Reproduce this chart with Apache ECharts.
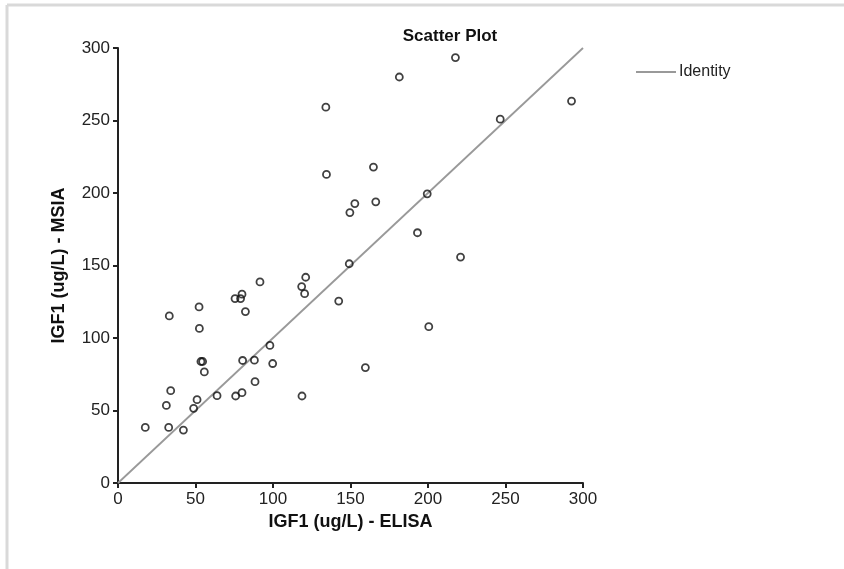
<!DOCTYPE html>
<html>
<head>
<meta charset="utf-8">
<title>Scatter Plot</title>
<script src="https://cdn.jsdelivr.net/npm/echarts@6/dist/echarts.min.js"></script>
<style>
  html, body { margin: 0; padding: 0; background: #fff; }
  #chart { width: 844px; height: 569px; }
</style>
</head>
<body>
<div id="chart"></div>
<script>
// data
var elisa = [17.6, 32.7, 42.2, 31.2, 34, 33.1, 48.8, 51, 52.3, 52.5, 53.5, 54.6, 55.7, 63.9,
             75.5, 79.1, 80, 82.2, 75.9, 80, 80.4, 88, 88.4, 91.6, 98, 99.8, 118.5, 121.1,
             120.4, 118.7, 142.4, 149.2, 159.6, 134.1, 134.5, 149.6, 152.8, 164.8, 166.3,
             181.5, 217.7, 292.6, 246.6, 199.5, 193.2, 221, 200.5];
var msia  = [38.3, 38.3, 36.5, 53.5, 63.7, 115.2, 51.5, 57.5, 121.4, 106.6, 83.8, 83.8, 76.6, 60.2,
             127.2, 127.2, 130.2, 118.2, 60, 62.3, 84.5, 84.7, 69.9, 138.7, 94.9, 82.4, 135.5, 141.9,
             130.6, 60, 125.5, 151.2, 79.6, 259.2, 212.8, 186.5, 192.7, 217.9, 193.9,
             280, 293.4, 263.4, 250.9, 199.4, 172.6, 155.8, 107.8];
var identity = [[0, 0], [300, 300]];
var ticks = [0, 50, 100, 150, 200, 250, 300];

var pts = [];
for (var i = 0; i < elisa.length; i++) {
    pts.push([elisa[i], msia[i]]);
}

var font = 'Liberation Sans, Arial, Helvetica, sans-serif';

function axisOpt(name, gap) {
    return {
        type: 'value',
        min: ticks[0],
        max: ticks[ticks.length - 1],
        interval: ticks[1] - ticks[0],
        name: name,
        nameLocation: 'middle',
        nameGap: gap,
        nameTextStyle: { fontFamily: font, fontWeight: 'bold', fontSize: 18, color: '#111' },
        axisLine: { show: true, onZero: false, lineStyle: { color: '#222', width: 2 } },
        axisTick: { show: true, length: 5, lineStyle: { color: '#222', width: 2 } },
        axisLabel: { fontFamily: font, fontSize: 17, color: '#222', margin: 8 },
        splitLine: { show: false }
    };
}

var myChart = echarts.init(document.getElementById('chart'));
myChart.setOption({
    animation: false,
    backgroundColor: '#fff',
    title: {
        text: 'Scatter Plot',
        left: 445,
        textAlign: 'center',
        top: 23,
        textStyle: { fontFamily: font, fontWeight: 'bold', fontSize: 17, color: '#111' }
    },
    legend: {
        data: [{ name: 'Identity', icon: 'rect' }],
        left: 631,
        top: 59,
        itemWidth: 40,
        itemHeight: 2,
        itemGap: 5,
        textStyle: { fontFamily: font, fontSize: 16, color: '#222', padding: [0, 0, 0, -2] }
    },
    grid: { left: 118, right: 261, top: 48, bottom: 86 },
    xAxis: axisOpt('IGF1 (ug/L) - ELISA', 30),
    yAxis: axisOpt('IGF1 (ug/L) - MSIA', 50),
    graphic: [
        { type: 'line', shape: { x1: 7, y1: 5, x2: 7, y2: 569 }, style: { stroke: '#d9d9d9', lineWidth: 3 } },
        { type: 'line', shape: { x1: 7, y1: 5, x2: 844, y2: 5 }, style: { stroke: '#d9d9d9', lineWidth: 3 } }
    ],
    series: [
        {
            name: 'Identity',
            type: 'line',
            data: identity,
            symbol: 'none',
            lineStyle: { color: '#999', width: 1.8 },
            itemStyle: { color: '#999' },
            z: 1
        },
        {
            type: 'scatter',
            data: pts,
            symbol: 'circle',
            symbolSize: 7,
            itemStyle: { color: 'rgba(255,255,255,0)', borderColor: '#111', borderWidth: 1.8 },
            z: 2
        }
    ]
});
</script>
</body>
</html>
